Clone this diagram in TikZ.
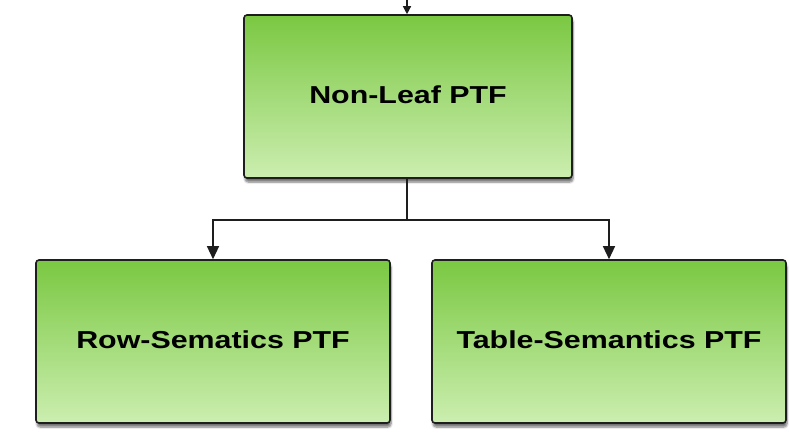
\documentclass[tikz,border=0pt]{standalone}
\usepackage{fontspec}
\setmainfont{Liberation Sans}
\newfontfamily\labfont[FakeStretch=1.24]{Liberation Sans}
\usetikzlibrary{arrows.meta,shadows.blur}
\definecolor{gtop}{RGB}{122,200,66}
\definecolor{gbot}{RGB}{204,238,176}
\definecolor{edge}{RGB}{30,30,30}
\tikzset{
  ptfbox/.style={draw=edge, line width=1.6pt, rounded corners=3pt,
    top color=gtop, bottom color=gbot, inner sep=0pt,
    blur shadow={shadow xshift=1pt, shadow yshift=-4pt, shadow blur steps=6, shadow opacity=55},
    font=\labfont\bfseries\fontsize{24.5}{28}\selectfont, text=black},
  conn/.style={draw=edge, line width=1.3pt},
  tip/.style={-{Triangle[length=13pt,width=12pt]}}
}
\begin{document}
\begin{tikzpicture}[x=1pt,y=-1pt]
\useasboundingbox (0,0) rectangle (789,437);
\clip (0,0) rectangle (789,437);
\node[ptfbox, minimum width=328pt, minimum height=163pt] (top) at (408,96.5) {\raisebox{4pt}{Non-Leaf PTF}};
\node[ptfbox, minimum width=354pt, minimum height=163pt] (left) at (213,341.5) {\raisebox{3pt}{Row-Sematics PTF}};
\node[ptfbox, minimum width=354pt, minimum height=163pt] (right) at (609,341.5) {\raisebox{3pt}{Table-Semantics PTF}};
\coordinate (in) at (407,-20);
\coordinate (split) at (407,220);
\draw[conn, {-{Triangle[length=8pt,width=8pt]}}] (in) -- (in |- top.north);
\draw[conn] (top.south -| split) -- (split);
\draw[conn, tip] (split) -| (left.north);
\draw[conn, tip] (split) -| (right.north);
\end{tikzpicture}
\end{document}
